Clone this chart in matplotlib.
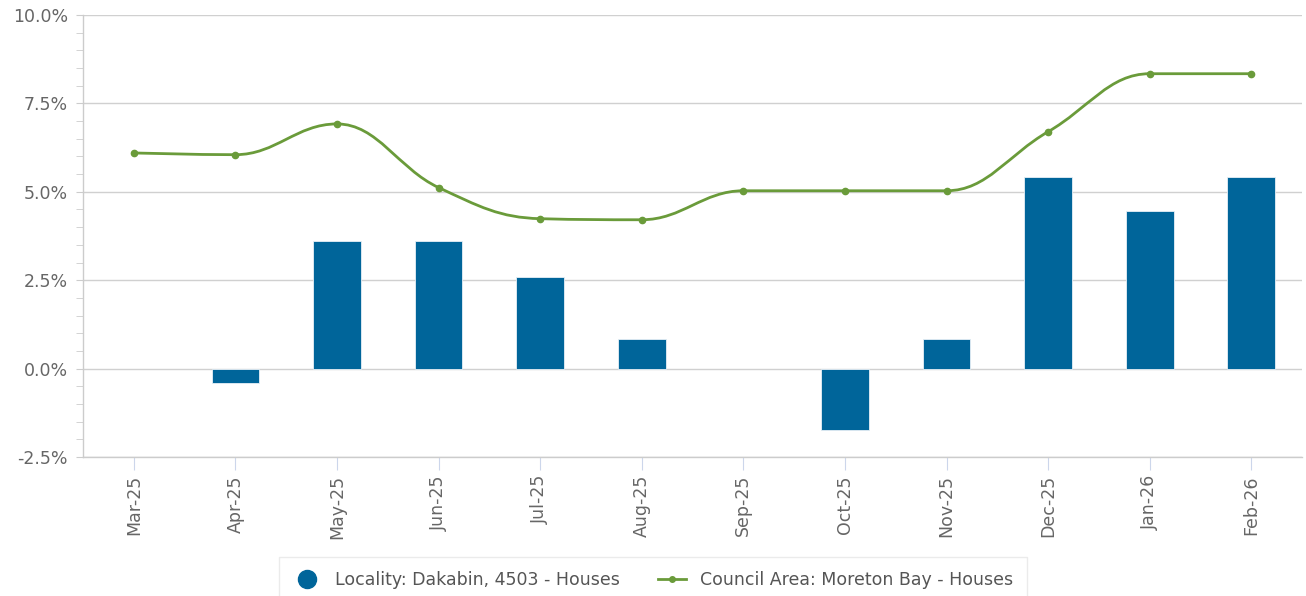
import numpy as np
import matplotlib
matplotlib.use("Agg")
import matplotlib.pyplot as plt
from matplotlib.path import Path
from matplotlib.patches import PathPatch
from matplotlib.lines import Line2D
from matplotlib.ticker import MultipleLocator, FuncFormatter

# 数据
months = ["Mar-25", "Apr-25", "May-25", "Jun-25", "Jul-25", "Aug-25",
          "Sep-25", "Oct-25", "Nov-25", "Dec-25", "Jan-26", "Feb-26"]
locality = [0.0, -0.42, 3.62, 3.62, 2.60, 0.85, 0.0, -1.75, 0.85, 5.43, 4.47, 5.43]
council = [6.10, 6.05, 6.92, 5.12, 4.24, 4.21, 5.03, 5.03, 5.03, 6.70, 8.34, 8.34]

bar_color = "#00659a"
line_color = "#6a9b3a"
grid_color = "#d0d0d0"
text_color = "#666666"


# highcharts风格的spline曲线
def spline_path(xs, ys, smooth=1.5):
    n = len(xs)
    lc = [None] * n
    rc = [None] * n
    for i in range(1, n - 1):
        x, y = xs[i], ys[i]
        lx, ly = xs[i - 1], ys[i - 1]
        nx, ny = xs[i + 1], ys[i + 1]
        d = smooth + 1
        lcx = (smooth * x + lx) / d
        lcy = (smooth * y + ly) / d
        rcx = (smooth * x + nx) / d
        rcy = (smooth * y + ny) / d
        if rcx != lcx:
            corr = (rcy - lcy) * (rcx - x) / (rcx - lcx) + y - rcy
            lcy += corr
            rcy += corr
        if lcy > ly and lcy > y:
            lcy = max(ly, y)
            rcy = 2 * y - lcy
        elif lcy < ly and lcy < y:
            lcy = min(ly, y)
            rcy = 2 * y - lcy
        if rcy > ny and rcy > y:
            rcy = max(ny, y)
            lcy = 2 * y - rcy
        elif rcy < ny and rcy < y:
            rcy = min(ny, y)
            lcy = 2 * y - rcy
        lc[i] = (lcx, lcy)
        rc[i] = (rcx, rcy)
    verts = [(xs[0], ys[0])]
    codes = [Path.MOVETO]
    for i in range(1, n):
        c1 = rc[i - 1] if rc[i - 1] is not None else (xs[i - 1], ys[i - 1])
        c2 = lc[i] if lc[i] is not None else (xs[i], ys[i])
        verts += [c1, c2, (xs[i], ys[i])]
        codes += [Path.CURVE4] * 3
    return Path(verts, codes)


fig = plt.figure(figsize=(13.06, 5.96), dpi=100)
ax = fig.add_axes([0.0636, 0.2332, 0.9334, 0.7416])

x = np.arange(len(months))
edge_w = [0.6 if v != 0 else 0 for v in locality]  # 零值不画边框
ax.bar(x, locality, width=0.47, color=bar_color, edgecolor="#e8f0f6",
       linewidth=edge_w, zorder=2)

path = spline_path(list(x), council)
ax.add_patch(PathPatch(path, facecolor="none", edgecolor=line_color,
                       linewidth=2.0, zorder=3))
ax.plot(x, council, linestyle="none", marker="o", markersize=4.5,
        color=line_color, zorder=4)

ax.set_xlim(-0.5, len(months) - 0.5)
ax.set_ylim(-2.5, 10)
ax.yaxis.set_major_locator(MultipleLocator(2.5))
ax.yaxis.set_minor_locator(MultipleLocator(0.5))
ax.yaxis.set_major_formatter(FuncFormatter(lambda v, p: "%.1f%%" % v))
ax.grid(axis="y", which="major", color=grid_color, linewidth=1.0, zorder=0)

ax.set_xticks(x)
ax.set_xticklabels(months, rotation=90)

for s in ["top", "right"]:
    ax.spines[s].set_visible(False)
ax.spines["left"].set_color("#cccccc")
ax.spines["bottom"].set_color("#cccccc")
ax.spines["left"].set_linewidth(1.0)
ax.spines["bottom"].set_linewidth(1.0)

ax.tick_params(axis="y", which="major", length=5, color="#cccccc",
               labelsize=12.5, labelcolor=text_color, pad=6)
ax.tick_params(axis="y", which="minor", length=5, color="#cccccc")
ax.tick_params(axis="x", length=9, color="#ccd6eb", labelsize=12.5,
               labelcolor=text_color, pad=4)

handles = [
    Line2D([], [], linestyle="none", marker="o", markersize=13, color=bar_color),
    Line2D([], [], color=line_color, linewidth=2.0, marker="o", markersize=4),
]
labels = ["Locality: Dakabin, 4503 - Houses", "Council Area: Moreton Bay - Houses"]
leg = fig.legend(handles, labels, loc="upper center", bbox_to_anchor=(0.5, 0.08),
                 ncol=2, frameon=True, fancybox=False, fontsize=12.5,
                 handlelength=1.6, columnspacing=2.2, borderpad=0.8,
                 labelcolor="#555555")
leg.get_frame().set_edgecolor("#e6e6e6")
leg.get_frame().set_linewidth(1.0)

fig.savefig("out.png", dpi=100)
